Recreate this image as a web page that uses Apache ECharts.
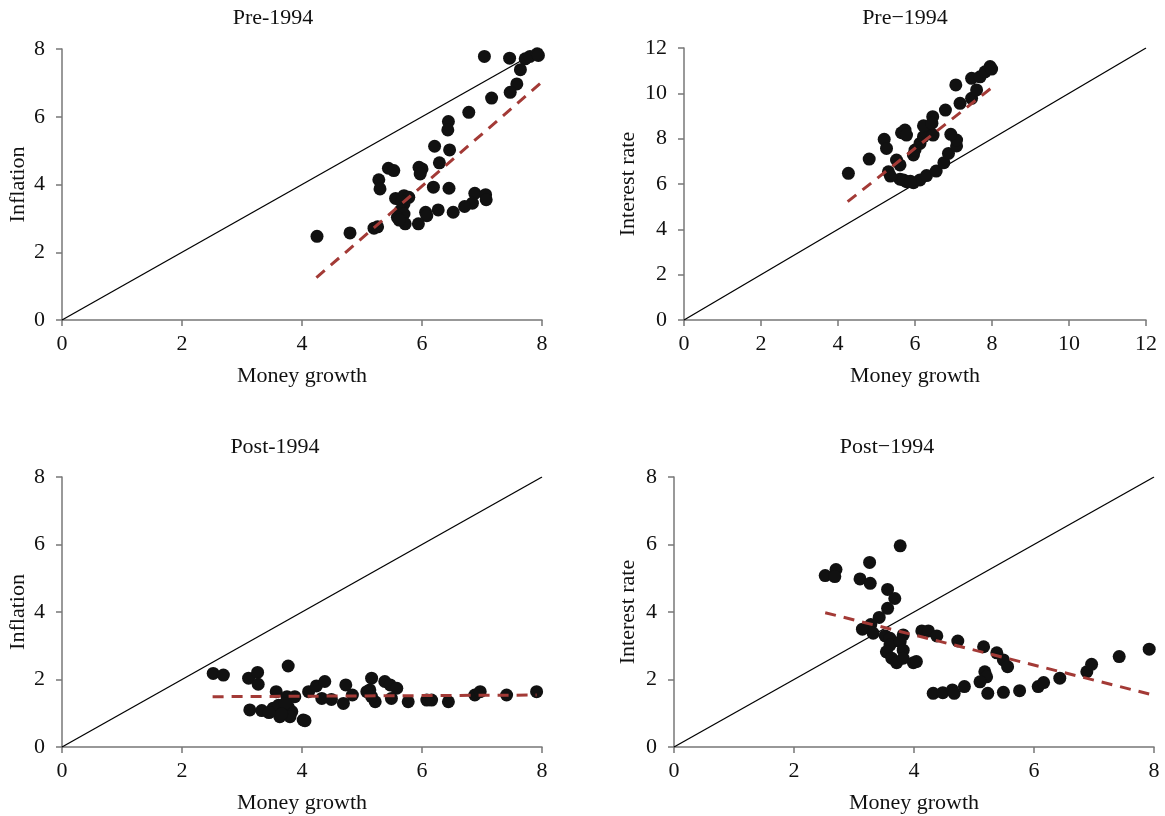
<!DOCTYPE html>
<html>
<head>
<meta charset="utf-8">
<script src="https://cdn.jsdelivr.net/npm/echarts@6/dist/echarts.min.js"></script>
<style>html,body{margin:0;padding:0;background:#fff;}#c{width:1165px;height:816px;}</style>
</head>
<body>
<div id="c"></div>
<script>
// ---- Data ----
var titles = ['Pre-1994', 'Pre\u22121994', 'Post-1994', 'Post\u22121994'];
var yNames = ['Inflation', 'Interest rate', 'Inflation', 'Interest rate'];
var xName = 'Money growth';
var axisMax = [8, 12, 8, 8];

var pre1X = [4.25, 4.80, 5.20, 5.26, 7.04, 7.46, 7.72, 7.80, 7.92, 7.94, 7.64, 7.58, 7.47, 7.16, 6.78, 6.44, 6.43, 6.21, 6.46, 6.29, 5.95, 6.00, 5.97, 5.44, 5.53, 5.28, 5.30, 6.19, 6.45, 6.88, 7.06, 7.07, 6.84, 6.71, 6.52, 6.27, 6.06, 6.08, 5.94, 5.56, 5.70, 5.78, 5.70, 5.64, 5.70, 5.59, 5.72, 5.66, 5.62];
var pre1Y = [2.47, 2.57, 2.71, 2.75, 7.78, 7.73, 7.71, 7.78, 7.86, 7.81, 7.39, 6.97, 6.72, 6.55, 6.13, 5.86, 5.61, 5.13, 5.02, 4.64, 4.51, 4.46, 4.31, 4.48, 4.41, 4.14, 3.87, 3.92, 3.89, 3.74, 3.70, 3.55, 3.45, 3.35, 3.18, 3.25, 3.18, 3.08, 2.84, 3.59, 3.67, 3.62, 3.43, 3.23, 3.13, 3.03, 2.84, 3.50, 2.95];
var pre1TrendX = [4.24, 7.97];
var pre1TrendY = [1.25, 6.98];

var pre2X = [4.27, 4.81, 5.20, 5.26, 5.31, 5.52, 5.61, 5.61, 5.78, 5.96, 6.13, 6.30, 6.55, 6.75, 6.87, 7.08, 7.08, 6.93, 5.65, 5.74, 5.78, 5.96, 6.00, 6.13, 6.22, 6.30, 6.47, 6.22, 6.46, 6.44, 6.79, 7.17, 7.47, 7.60, 7.06, 7.47, 7.69, 7.82, 7.95, 7.99, 5.36, 5.70, 5.88];
var pre2Y = [6.47, 7.10, 7.97, 7.57, 6.54, 7.06, 6.84, 6.21, 6.10, 6.06, 6.18, 6.37, 6.57, 6.94, 7.35, 7.68, 7.94, 8.19, 8.26, 8.38, 8.16, 7.28, 7.50, 7.79, 8.09, 8.24, 8.16, 8.57, 8.97, 8.68, 9.26, 9.56, 9.78, 10.15, 10.37, 10.66, 10.73, 10.95, 11.18, 11.07, 6.35, 6.18, 6.12];
var pre2TrendX = [4.25, 7.97];
var pre2TrendY = [5.22, 10.22];

var post1X = [2.52, 2.69, 3.11, 3.26, 3.27, 3.77, 3.13, 3.33, 3.57, 3.75, 3.88, 3.52, 3.61, 3.69, 3.77, 3.83, 3.63, 3.80, 4.02, 4.05, 3.72, 4.11, 4.24, 4.38, 4.33, 4.49, 4.69, 4.73, 4.84, 5.16, 5.13, 5.08, 5.22, 5.16, 5.38, 5.47, 5.58, 5.49, 5.77, 6.08, 6.16, 6.44, 6.88, 6.97, 7.41, 7.91, 3.45, 3.66];
var post1Y = [2.18, 2.13, 2.04, 2.21, 1.86, 2.40, 1.10, 1.08, 1.64, 1.49, 1.49, 1.15, 1.24, 1.05, 1.19, 1.05, 0.90, 0.90, 0.80, 0.78, 1.29, 1.64, 1.81, 1.94, 1.44, 1.41, 1.29, 1.84, 1.54, 2.04, 1.69, 1.64, 1.34, 1.49, 1.94, 1.84, 1.74, 1.44, 1.34, 1.39, 1.39, 1.34, 1.54, 1.64, 1.54, 1.64, 1.02, 0.98];
var post1TrendX = [2.51, 7.91];
var post1TrendY = [1.49, 1.54];

var post2X = [2.52, 2.70, 2.68, 3.10, 3.26, 3.27, 3.77, 3.56, 3.68, 3.56, 3.42, 3.28, 3.14, 3.32, 3.52, 3.60, 3.82, 3.60, 3.77, 3.54, 3.82, 3.63, 3.71, 3.82, 3.99, 4.04, 4.13, 4.24, 4.38, 4.73, 5.16, 5.38, 5.49, 5.56, 5.18, 5.21, 5.10, 4.32, 4.48, 4.64, 4.67, 4.84, 5.23, 5.49, 5.76, 6.07, 6.16, 6.43, 6.88, 6.96, 7.42, 7.92];
var post2Y = [5.08, 5.26, 5.05, 4.98, 5.47, 4.85, 5.96, 4.67, 4.40, 4.11, 3.84, 3.63, 3.49, 3.37, 3.29, 3.22, 3.32, 3.02, 3.12, 2.82, 2.87, 2.63, 2.50, 2.63, 2.50, 2.53, 3.44, 3.44, 3.29, 3.14, 2.97, 2.79, 2.58, 2.38, 2.23, 2.08, 1.93, 1.59, 1.61, 1.69, 1.59, 1.79, 1.59, 1.62, 1.67, 1.79, 1.91, 2.04, 2.23, 2.45, 2.68, 2.90];
var post2TrendX = [2.52, 7.99];
var post2TrendY = [3.98, 1.54];

// ---- Build chart ----
var FONT = 'Liberation Serif';
var FS = 22;
var grids = [
  {left: 62, top: 49, width: 480, height: 271},
  {left: 684, top: 48, width: 462, height: 272},
  {left: 62, top: 477, width: 480, height: 270},
  {left: 674, top: 477, width: 480, height: 270}
];
var yNameGaps = [33, 45, 33, 35];
var titlePos = [[273, 7], [905, 7], [275, 436], [887, 436]];

function zip(xs, ys) { return xs.map(function (v, i) { return [v, ys[i]]; }); }

var xAxes = [], yAxes = [], series = [], graphics = [];
var scatterX = [pre1X, pre2X, post1X, post2X];
var scatterY = [pre1Y, pre2Y, post1Y, post2Y];
var trendX = [pre1TrendX, pre2TrendX, post1TrendX, post2TrendX];
var trendY = [pre1TrendY, pre2TrendY, post1TrendY, post2TrendY];

for (var i = 0; i < 4; i++) {
  var axCommon = {
    type: 'value', min: 0, max: axisMax[i], interval: 2, gridIndex: i,
    axisLine: {show: true, onZero: false, lineStyle: {color: '#777', width: 1.5}},
    axisTick: {show: true, inside: false, length: 6, lineStyle: {color: '#777', width: 1.5}},
    splitLine: {show: false},
    axisLabel: {color: '#111', fontFamily: FONT, fontSize: FS},
    nameTextStyle: {color: '#111', fontFamily: FONT, fontSize: FS},
    nameLocation: 'middle'
  };
  xAxes.push(Object.assign({}, axCommon, {
    name: xName, nameGap: 45,
    axisLabel: Object.assign({}, axCommon.axisLabel, {margin: 13})
  }));
  yAxes.push(Object.assign({}, axCommon, {
    name: yNames[i], nameGap: yNameGaps[i],
    axisLabel: Object.assign({}, axCommon.axisLabel, {margin: 17})
  }));
  series.push({
    type: 'line', xAxisIndex: i, yAxisIndex: i, silent: true, symbol: 'none',
    data: [[0, 0], [axisMax[i], axisMax[i]]],
    lineStyle: {color: '#000', width: 1.3}, z: 1
  });
  series.push({
    type: 'scatter', xAxisIndex: i, yAxisIndex: i, symbol: 'circle', symbolSize: 13,
    data: zip(scatterX[i], scatterY[i]),
    itemStyle: {color: '#111', opacity: 1}, z: 2
  });
  series.push({
    type: 'line', xAxisIndex: i, yAxisIndex: i, silent: true, symbol: 'none',
    data: zip(trendX[i], trendY[i]),
    lineStyle: {color: '#A33A36', width: 3, type: [11, 8]}, z: 3
  });
  graphics.push({
    type: 'text', x: titlePos[i][0], y: titlePos[i][1],
    style: {text: titles[i], fill: '#111', font: FS + 'px "' + FONT + '"', textAlign: 'center', textVerticalAlign: 'top'}
  });
}

var chart = echarts.init(document.getElementById('c'), null, {renderer: 'canvas'});
chart.setOption({
  backgroundColor: '#fff',
  animation: false,
  grid: grids,
  xAxis: xAxes,
  yAxis: yAxes,
  series: series,
  graphic: graphics
});
</script>
</body>
</html>
